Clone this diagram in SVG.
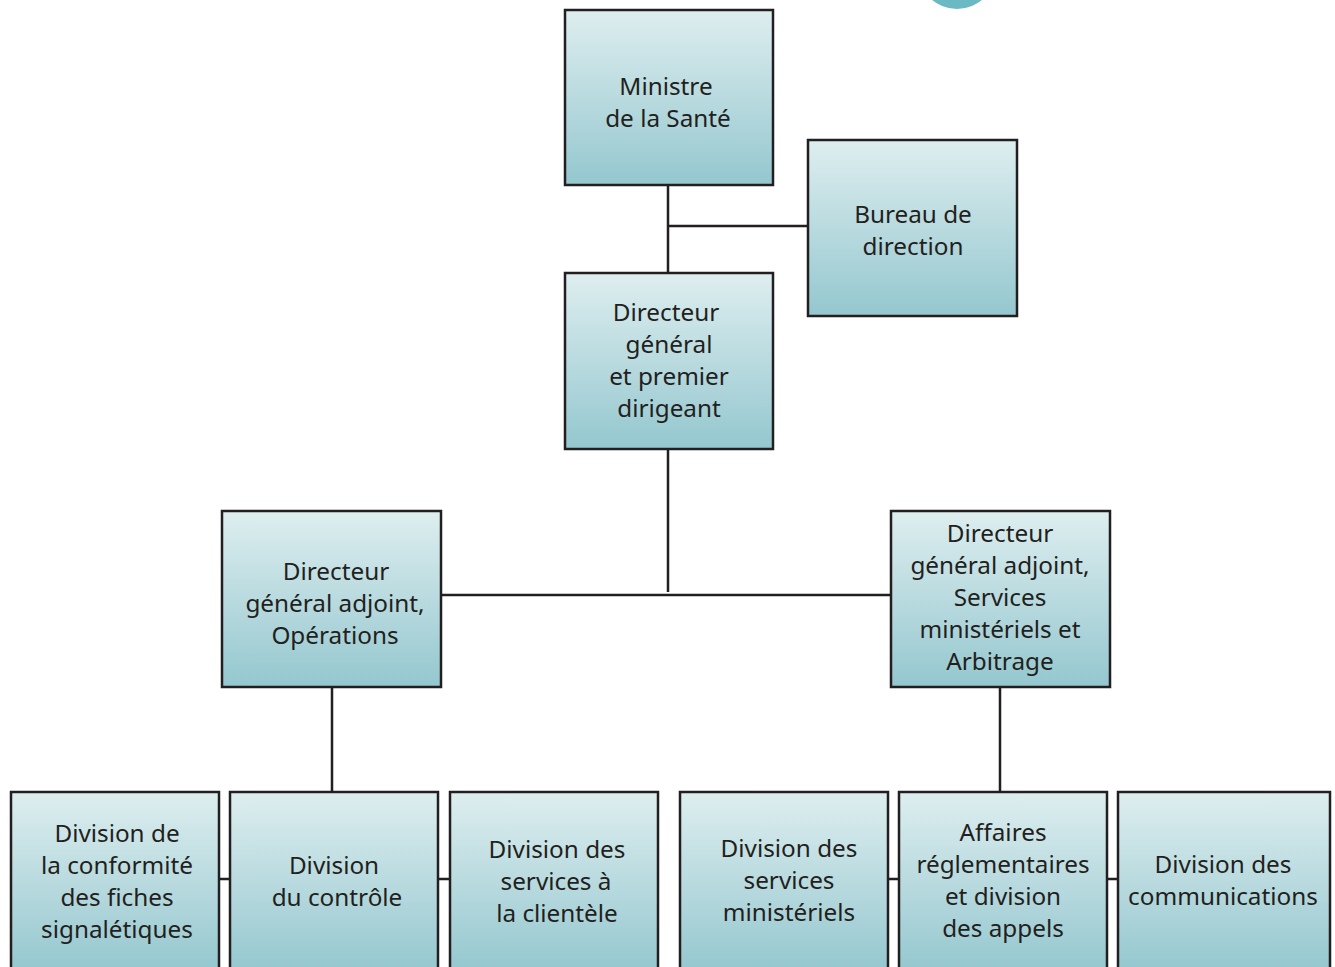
<svg xmlns="http://www.w3.org/2000/svg" width="1335" height="967" viewBox="0 0 1335 967">
<defs>
<linearGradient id="g" x1="0" y1="0" x2="0" y2="1">
<stop offset="0" stop-color="#deeeef"/>
<stop offset="1" stop-color="#94c7cf"/>
</linearGradient>
<style>
.box{fill:url(#g);stroke:#231f20;stroke-width:2.5}
.t{font-family:"Noto Sans","Open Sans","DejaVu Sans",sans-serif;font-size:24.3px;fill:#231f20;text-anchor:middle}
.c{stroke:#231f20;stroke-width:2.5;fill:none}
</style>
</defs>
<rect width="1335" height="967" fill="#ffffff"/>
<circle cx="957" cy="-30" r="39" fill="#6bb9c4"/>
<g id="connectors">
<path class="c" d="M668 185V273M668 226H808M668 449V592M441 595H891M332 687V792M1000 687V792M219 879H230M438 879H450M888 879H899M1107 879H1118"/>
</g>
<g id="ministre"><rect class="box" x="565" y="10" width="208" height="175"/>
<text class="t" x="666" y="95">Ministre</text><text class="t" x="668" y="127">de la Santé</text></g>
<g id="bureau"><rect class="box" x="808" y="140" width="209" height="176"/>
<text class="t" x="913" y="223">Bureau de</text><text class="t" x="913" y="255">direction</text></g>
<g id="dg"><rect class="box" x="565" y="273" width="208" height="176"/>
<text class="t" x="666" y="321">Directeur</text><text class="t" x="669" y="353">général</text><text class="t" x="669" y="385">et premier</text><text class="t" x="669" y="417">dirigeant</text></g>
<g id="dga-ops"><rect class="box" x="222" y="511" width="219" height="176"/>
<text class="t" x="336" y="580">Directeur</text><text class="t" x="335" y="612">général adjoint,</text><text class="t" x="335" y="644">Opérations</text></g>
<g id="dga-svc"><rect class="box" x="891" y="511" width="219" height="176"/>
<text class="t" x="1000" y="542">Directeur</text><text class="t" x="1000" y="574">général adjoint,</text><text class="t" x="1000" y="606">Services</text><text class="t" x="1000" y="638">ministériels et</text><text class="t" x="1000" y="670">Arbitrage</text></g>
<g id="div-fiches"><rect class="box" x="11" y="792" width="208" height="180"/>
<text class="t" x="117" y="842">Division de</text><text class="t" x="117" y="874">la conformité</text><text class="t" x="117" y="906">des fiches</text><text class="t" x="117" y="938">signalétiques</text></g>
<g id="div-controle"><rect class="box" x="230" y="792" width="208" height="180"/>
<text class="t" x="334" y="874">Division</text><text class="t" x="337" y="906">du contrôle</text></g>
<g id="div-clientele"><rect class="box" x="450" y="792" width="208" height="180"/>
<text class="t" x="557" y="858">Division des</text><text class="t" x="556" y="890">services à</text><text class="t" x="557" y="922">la clientèle</text></g>
<g id="div-ministeriels"><rect class="box" x="680" y="792" width="208" height="180"/>
<text class="t" x="789" y="857">Division des</text><text class="t" x="789" y="889">services</text><text class="t" x="789" y="921">ministériels</text></g>
<g id="affaires"><rect class="box" x="899" y="792" width="208" height="180"/>
<text class="t" x="1003" y="841">Affaires</text><text class="t" x="1003" y="873">réglementaires</text><text class="t" x="1003" y="905">et division</text><text class="t" x="1003" y="937">des appels</text></g>
<g id="div-comm"><rect class="box" x="1118" y="792" width="212" height="180"/>
<text class="t" x="1223" y="873">Division des</text><text class="t" x="1223" y="905">communications</text></g>
</svg>
